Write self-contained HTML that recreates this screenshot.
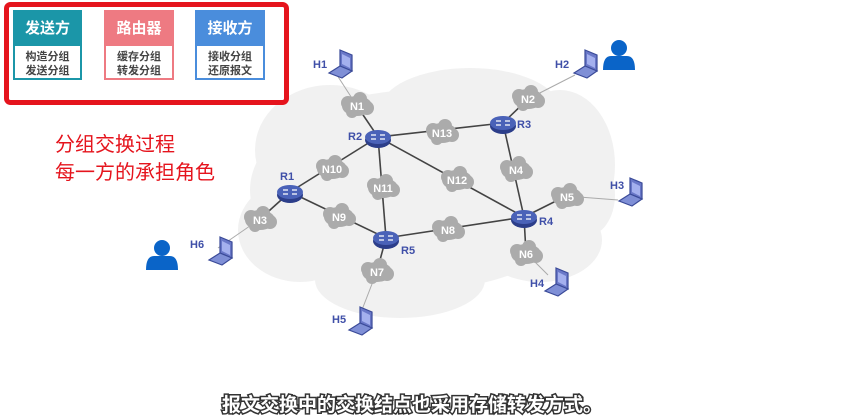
<!DOCTYPE html>
<html><head><meta charset="utf-8"><style>
html,body{margin:0;padding:0;background:#fff;width:847px;height:420px;overflow:hidden}
svg{display:block}
.cj{font-family:"Liberation Sans","Noto Sans CJK SC",sans-serif}
</style></head><body>
<svg width="847" height="420" viewBox="0 0 847 420" xmlns="http://www.w3.org/2000/svg">
<defs>
<g id="lap">
 <polygon points="2,-14 14,-9 14,7 2,2" fill="#6a78c8" stroke="#3a4a98" stroke-width="1.2"/>
 <polygon points="4,-10 12,-6 12,4 4,0" fill="#a4b0ee"/>
 <polygon points="2,2 14,7 4,14 -9,9" fill="#7f8fd6" stroke="#3a4a98" stroke-width="1.2"/>
</g>
<g id="rt">
 <ellipse cx="0" cy="3" rx="13" ry="8" fill="#2c3e8a"/>
 <ellipse cx="0" cy="0" rx="13" ry="7" fill="#4a62b8"/>
 <path d="M-7,-2 h5 M2,-2 h5 M-7,2 h5 M2,2 h5" stroke="#fff" stroke-width="1.3"/>
</g>
<g id="cl">
 <ellipse cx="0" cy="0" rx="15" ry="10" fill="#ababab"/>
 <circle cx="-9" cy="-3" r="7" fill="#ababab"/><circle cx="3" cy="-7" r="7" fill="#ababab"/>
 <circle cx="10" cy="2" r="7" fill="#ababab"/><circle cx="-5" cy="6" r="6" fill="#ababab"/>
</g>
<g id="person">
 <circle cx="0" cy="-8" r="8" fill="#0a64c8"/>
 <path d="M-16,14 Q-16,0 -8,0 L8,0 Q16,0 16,14 Z" fill="#0a64c8"/>
</g>
</defs>

<!-- background cloud -->
<g fill="#f1f1f1">
<ellipse cx="420" cy="190" rx="170" ry="100"/>
<ellipse cx="330" cy="150" rx="75" ry="65"/>
<ellipse cx="470" cy="110" rx="90" ry="42"/>
<ellipse cx="560" cy="165" rx="55" ry="75"/>
<ellipse cx="300" cy="230" rx="62" ry="52"/>
<ellipse cx="400" cy="280" rx="85" ry="38"/>
<ellipse cx="540" cy="240" rx="62" ry="42"/>
<ellipse cx="585" cy="195" rx="30" ry="42"/>
</g>

<!-- links -->
<g stroke="#444" stroke-width="1.6">
<line x1="378" y1="137" x2="503" y2="123"/>
<line x1="378" y1="137" x2="290" y2="192"/>
<line x1="378" y1="137" x2="386" y2="238"/>
<line x1="378" y1="137" x2="524" y2="217"/>
<line x1="378" y1="137" x2="357" y2="106"/>
<line x1="503" y1="123" x2="524" y2="217"/>
<line x1="503" y1="123" x2="528" y2="99"/>
<line x1="290" y1="192" x2="386" y2="238"/>
<line x1="290" y1="192" x2="260" y2="219"/>
<line x1="386" y1="238" x2="524" y2="217"/>
<line x1="386" y1="238" x2="377" y2="271"/>
<line x1="524" y1="217" x2="566" y2="196"/>
<line x1="524" y1="217" x2="526" y2="253"/>
</g>
<g stroke="#aaa" stroke-width="1">
<line x1="357" y1="106" x2="335" y2="72"/>
<line x1="528" y1="99" x2="575" y2="75"/>
<line x1="566" y1="196" x2="618" y2="200"/>
<line x1="526" y1="253" x2="548" y2="275"/>
<line x1="377" y1="271" x2="360" y2="315"/>
<line x1="260" y1="219" x2="218" y2="248"/>
</g>

<!-- clouds -->
<g class="cj" font-size="11" fill="#fff" text-anchor="middle" font-weight="bold">
<use href="#cl" x="357" y="106"/><text x="357" y="110">N1</text>
<use href="#cl" x="528" y="99"/><text x="528" y="103">N2</text>
<use href="#cl" x="442" y="133"/><text x="442" y="137">N13</text>
<use href="#cl" x="332" y="169"/><text x="332" y="173">N10</text>
<use href="#cl" x="383" y="188"/><text x="383" y="192">N11</text>
<use href="#cl" x="457" y="180"/><text x="457" y="184">N12</text>
<use href="#cl" x="516" y="170"/><text x="516" y="174">N4</text>
<use href="#cl" x="567" y="197"/><text x="567" y="201">N5</text>
<use href="#cl" x="339" y="217"/><text x="339" y="221">N9</text>
<use href="#cl" x="448" y="230"/><text x="448" y="234">N8</text>
<use href="#cl" x="526" y="254"/><text x="526" y="258">N6</text>
<use href="#cl" x="377" y="272"/><text x="377" y="276">N7</text>
<use href="#cl" x="260" y="220"/><text x="260" y="224">N3</text>
</g>

<!-- routers -->
<use href="#rt" x="378" y="137"/><use href="#rt" x="503" y="123"/>
<use href="#rt" x="290" y="192"/><use href="#rt" x="386" y="238"/>
<use href="#rt" x="524" y="217"/>

<!-- laptops -->
<use href="#lap" x="338" y="64"/><use href="#lap" x="583" y="64"/>
<use href="#lap" x="628" y="192"/><use href="#lap" x="554" y="282"/>
<use href="#lap" x="358" y="321"/><use href="#lap" x="218" y="251"/>

<g class="cj" font-size="11" fill="#3f4fa8" font-weight="bold">
<text x="348" y="140">R2</text><text x="517" y="128">R3</text>
<text x="280" y="180">R1</text><text x="401" y="254">R5</text>
<text x="539" y="225">R4</text>
<text x="313" y="68">H1</text><text x="555" y="68">H2</text>
<text x="610" y="189">H3</text><text x="530" y="287">H4</text>
<text x="332" y="323">H5</text><text x="190" y="248">H6</text>
</g>

<use href="#person" x="619" y="56"/>
<use href="#person" x="162" y="256"/>

<!-- red box -->
<rect x="6.5" y="4.5" width="280" height="98" rx="4" fill="#fff" stroke="#e5141d" stroke-width="5"/>
<g class="cj" font-weight="bold" text-anchor="middle">
<rect x="13" y="10" width="69" height="35" fill="#1b96a8"/>
<rect x="14" y="45" width="67" height="34" fill="#fff" stroke="#1b96a8" stroke-width="2"/>
<text x="47.5" y="33" fill="#fff" font-size="15">发送方</text>
<text x="47.5" y="60" fill="#444" font-size="11">构造分组</text>
<text x="47.5" y="74" fill="#444" font-size="11">发送分组</text>
<rect x="104" y="10" width="70" height="35" fill="#ee7a82"/>
<rect x="105" y="45" width="68" height="34" fill="#fff" stroke="#ee7a82" stroke-width="2"/>
<text x="139" y="33" fill="#fff" font-size="15">路由器</text>
<text x="139" y="60" fill="#444" font-size="11">缓存分组</text>
<text x="139" y="74" fill="#444" font-size="11">转发分组</text>
<rect x="195" y="10" width="70" height="35" fill="#4a8ddc"/>
<rect x="196" y="45" width="68" height="34" fill="#fff" stroke="#4a8ddc" stroke-width="2"/>
<text x="230" y="33" fill="#fff" font-size="15">接收方</text>
<text x="230" y="60" fill="#444" font-size="11">接收分组</text>
<text x="230" y="74" fill="#444" font-size="11">还原报文</text>
</g>

<g class="cj" font-size="20" fill="#e5141d">
<text x="55" y="151">分组交换过程</text>
<text x="55" y="179">每一方的承担角色</text>
</g>

<text class="cj" x="412" y="411" text-anchor="middle" font-size="19" fill="#fff" stroke="#333" stroke-width="3" paint-order="stroke" font-weight="bold">报文交换中的交换结点也采用存储转发方式。</text>
</svg>
</body></html>
